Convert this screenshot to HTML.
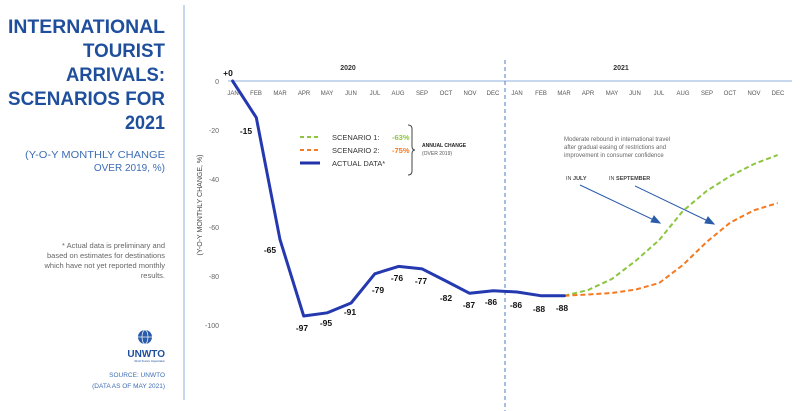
<!DOCTYPE html>
<html><head><meta charset="utf-8"><style>
body{margin:0;background:#fff;}
svg{display:block;font-family:"Liberation Sans",sans-serif;}
</style></head><body>
<svg width="800" height="411" viewBox="0 0 800 411" xmlns="http://www.w3.org/2000/svg">
<rect width="800" height="411" fill="#fff"/>
<!-- left panel -->
<g font-weight="bold" fill="#1f4f9c" font-size="19" text-anchor="end">
<text x="165" y="33" textLength="157" lengthAdjust="spacingAndGlyphs">INTERNATIONAL</text>
<text x="165" y="57" textLength="82" lengthAdjust="spacingAndGlyphs">TOURIST</text>
<text x="165" y="81" textLength="99" lengthAdjust="spacingAndGlyphs">ARRIVALS:</text>
<text x="165" y="105" textLength="157" lengthAdjust="spacingAndGlyphs">SCENARIOS FOR</text>
<text x="165" y="129" textLength="40" lengthAdjust="spacingAndGlyphs">2021</text>
</g>
<g fill="#3d6db5" font-size="10" text-anchor="end">
<text x="165" y="158" textLength="140" lengthAdjust="spacingAndGlyphs">(Y-O-Y MONTHLY CHANGE</text>
<text x="165" y="171">OVER 2019, %)</text>
</g>
<g fill="#666" font-size="7.5" text-anchor="end">
<text x="165" y="248">* Actual data is preliminary and</text>
<text x="165" y="258">based on estimates for destinations</text>
<text x="165" y="268">which have not yet reported monthly</text>
<text x="165" y="278">results.</text>
</g>
<circle cx="145" cy="337" r="7" fill="#2a5caa"/>
<g stroke="#fff" stroke-width="0.7" fill="none"><ellipse cx="145" cy="337" rx="3" ry="7"/><line x1="138" y1="337" x2="152" y2="337"/></g>
<text x="165" y="357" font-size="10" font-weight="bold" fill="#1f4f9c" text-anchor="end">UNWTO</text>
<text x="165" y="362" font-size="2.5" fill="#1f4f9c" text-anchor="end">World Tourism Organization</text>
<g fill="#3d6db5" font-size="6.5" text-anchor="end">
<text x="165" y="377">SOURCE: UNWTO</text>
<text x="165" y="388">(DATA AS OF MAY 2021)</text>
</g>
<line x1="184" y1="5" x2="184" y2="400" stroke="#8fb0dd" stroke-width="1"/>
<!-- axes -->
<line x1="228" y1="81" x2="792" y2="81" stroke="#8fb0dd" stroke-width="1"/>
<line x1="505" y1="60" x2="505" y2="411" stroke="#4d7cc0" stroke-width="1" stroke-dasharray="4,3"/>
<g fill="#333" font-size="7" font-weight="bold" text-anchor="middle">
<text x="348" y="70">2020</text><text x="621" y="70">2021</text>
</g>
<g fill="#555" font-size="6" text-anchor="middle">
<text x="233" y="95">JAN</text><text x="256" y="95">FEB</text><text x="280" y="95">MAR</text><text x="304" y="95">APR</text><text x="327" y="95">MAY</text><text x="351" y="95">JUN</text><text x="375" y="95">JUL</text><text x="398" y="95">AUG</text><text x="422" y="95">SEP</text><text x="446" y="95">OCT</text><text x="470" y="95">NOV</text><text x="493" y="95">DEC</text>
<text x="517" y="95">JAN</text><text x="541" y="95">FEB</text><text x="564" y="95">MAR</text><text x="588" y="95">APR</text><text x="612" y="95">MAY</text><text x="635" y="95">JUN</text><text x="659" y="95">JUL</text><text x="683" y="95">AUG</text><text x="707" y="95">SEP</text><text x="730" y="95">OCT</text><text x="754" y="95">NOV</text><text x="778" y="95">DEC</text>
</g>
<g fill="#666" font-size="7" text-anchor="end">
<text x="219" y="84">0</text><text x="219" y="133">-20</text><text x="219" y="182">-40</text><text x="219" y="230">-60</text><text x="219" y="279">-80</text><text x="219" y="328">-100</text>
</g>
<text transform="translate(202,205) rotate(-90)" fill="#444" font-size="7" text-anchor="middle">(Y-O-Y MONTHLY CHANGE, %)</text>
<!-- legend -->
<g stroke-width="2">
<line x1="300" y1="137" x2="320" y2="137" stroke="#8cc63f" stroke-dasharray="4,3"/>
<line x1="300" y1="150" x2="320" y2="150" stroke="#f47920" stroke-dasharray="4,3"/>
<line x1="300" y1="163" x2="320" y2="163" stroke="#2233aa" stroke-width="3"/>
</g>
<g font-size="7.5" fill="#333">
<text x="332" y="140">SCENARIO 1:</text><text x="332" y="153">SCENARIO 2:</text><text x="332" y="166">ACTUAL DATA*</text>
<text x="392" y="140" fill="#8cc63f" font-weight="bold">-63%</text>
<text x="392" y="153" fill="#f47920" font-weight="bold">-75%</text>
</g>
<path d="M408,125 q4,0 4,4 v17 q0,4 3,4 q-3,0 -3,4 v17 q0,4 -4,4" fill="none" stroke="#444" stroke-width="1"/>
<text x="422" y="147" font-size="5" font-weight="bold" fill="#222">ANNUAL CHANGE</text>
<text x="422" y="155" font-size="5" fill="#555">(OVER 2019)</text>
<!-- annotation -->
<g font-size="6" fill="#666">
<text x="564" y="141">Moderate rebound in international travel</text>
<text x="564" y="149">after gradual easing of restrictions and</text>
<text x="564" y="157">improvement in consumer confidence</text>
</g>
<g font-size="5.5" fill="#444"><text x="566" y="180">IN <tspan font-weight="bold">JULY</tspan></text><text x="609" y="180">IN <tspan font-weight="bold">SEPTEMBER</tspan></text></g>
<g stroke="#2a5caa" stroke-width="1" fill="#2a5caa">
<line x1="580" y1="185" x2="656" y2="221"/><polygon points="660,223 651,222 654,216"/>
<line x1="635" y1="186" x2="710" y2="222"/><polygon points="714,224 705,223 708,217"/>
</g>
<!-- series -->
<polyline fill="none" stroke="#8cc63f" stroke-width="2" stroke-dasharray="5,3" points="564.4,295.7 588.1,290 611.8,279 635.5,261 659.2,240 682.9,211 706.6,191 730.3,176 754,164 777.7,155"/>
<polyline fill="none" stroke="#f47920" stroke-width="2" stroke-dasharray="5,3" points="564.4,295.7 588.1,294.5 611.8,293 635.5,289.6 659.2,283 682.9,265 706.6,242 730.3,222.5 754,210.3 777.7,203"/>
<polyline fill="none" stroke="#2438b0" stroke-width="3" stroke-linejoin="round" stroke-linecap="round" points="232.6,81 256.3,117.6 280,239.6 303.7,316 327.4,312.8 351.1,303 374.8,273.8 398.5,266.4 422.2,268.9 445.9,281 469.6,293.3 493.3,290.8 517,292 540.7,295.7 564.4,295.7"/>
<g font-size="8.5" font-weight="bold" fill="#111" text-anchor="middle">
<text x="228" y="76">+0</text><text x="246" y="134">-15</text><text x="270" y="253">-65</text>
<text x="302" y="331">-97</text><text x="326" y="326">-95</text><text x="350" y="315">-91</text>
<text x="378" y="293">-79</text><text x="397" y="281">-76</text><text x="421" y="284">-77</text>
<text x="446" y="301">-82</text><text x="469" y="308">-87</text><text x="491" y="305">-86</text>
<text x="516" y="308">-86</text><text x="539" y="312">-88</text><text x="562" y="311">-88</text>
</g>
</svg>
</body></html>
